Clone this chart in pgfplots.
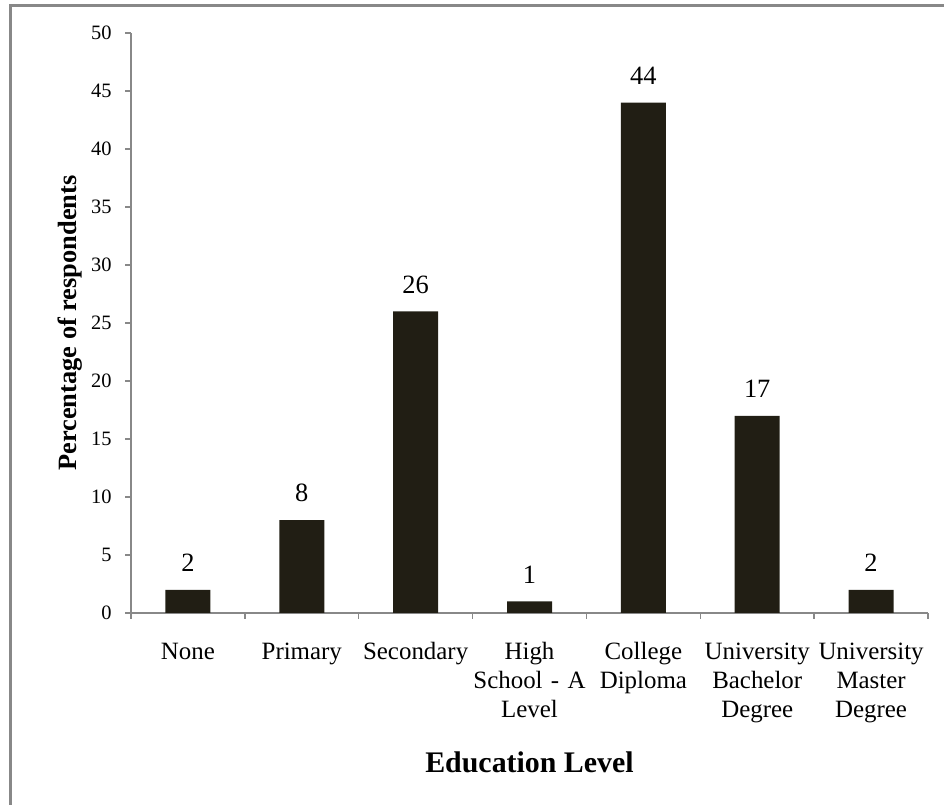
\documentclass[border=0pt]{standalone}
\usepackage{fontspec}
\setmainfont{Liberation Serif}
\usepackage{pgfplots}
\pgfplotsset{compat=1.18}
\definecolor{barc}{HTML}{211E14}
\definecolor{axc}{HTML}{888888}
\begin{document}
\begin{tikzpicture}[x=1bp,y=1bp]
\useasboundingbox (0,0) rectangle (944,805);
\draw[axc, line width=3bp] (10.5,-20) -- (10.5,799.5) -- (980,799.5);
\begin{axis}[
  at={(131bp,192bp)}, anchor=south west,
  scale only axis, width=797bp, height=580bp,
  xmin=-0.5, xmax=6.5, ymin=0, ymax=50,
  axis lines*=left,
  axis line style={axc, line width=1.5bp},
  tick style={axc, line width=1.5bp},
  tick align=outside,
  major tick length=6bp,
  /pgf/number format/assume math mode=true,
  ytick={0,5,...,50},
  yticklabel style={font=\fontsize{20.5}{24}\selectfont, text=black, xshift=-10bp},
  xtick={-0.5,0.5,...,6.5},
  x tick label as interval,
  xticklabels={\strut None, \strut Primary, \strut Secondary, {\strut High\\School - A\\Level}, {\strut College\\Diploma}, {\strut University\\Bachelor\\Degree}, {\strut University\\Master\\Degree}},
  xticklabel style={font=\fontsize{25}{29.5}\selectfont, align=center, text width=126bp, anchor=north, yshift=-16bp, text=black},
  ylabel={Percentage of respondents},
  ylabel style={font=\bfseries\fontsize{26.5}{31}\selectfont, at={(axis description cs:-0.0765,0.5)}, anchor=center},
  xlabel={Education Level},
  xlabel style={font=\bfseries\fontsize{30}{35}\selectfont, at={(axis description cs:0.5,-0.257)}, anchor=center},
  ybar, bar width=45bp,
  nodes near coords,
  nodes near coords style={font=\fontsize{26.5}{31}\selectfont, anchor=center, yshift=27bp, text=black},
  clip=false,
]
\addplot[fill=barc, draw=none] coordinates {(0,2) (1,8) (2,26) (3,1) (4,44) (5,17) (6,2)};
\end{axis}
\end{tikzpicture}
\end{document}
